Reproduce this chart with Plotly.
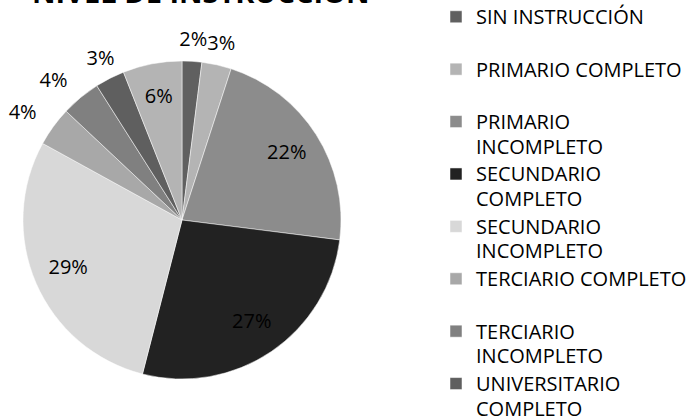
import numpy as np
import plotly.graph_objects as go

categories = ["SIN INSTRUCCIÓN", "PRIMARIO COMPLETO", "PRIMARIO INCOMPLETO",
              "SECUNDARIO COMPLETO", "SECUNDARIO INCOMPLETO", "TERCIARIO COMPLETO",
              "TERCIARIO INCOMPLETO", "UNIVERSITARIO COMPLETO", "UNIVERSITARIO INCOMPLETO"]
legend_lines = [["SIN INSTRUCCIÓN", "\u00a0"], ["PRIMARIO COMPLETO", "\u00a0"],
                ["PRIMARIO", "INCOMPLETO"], ["SECUNDARIO", "COMPLETO"],
                ["SECUNDARIO", "INCOMPLETO"], ["TERCIARIO COMPLETO", "\u00a0"],
                ["TERCIARIO", "INCOMPLETO"], ["UNIVERSITARIO", "COMPLETO"],
                ["UNIVERSITARIO", "INCOMPLETO"]]
percentages = [2, 3, 22, 27, 29, 4, 4, 3, 6]
title_text = "NIVEL DE INSTRUCCIÓN"

colors = ["#606060", "#b4b4b4", "#8c8c8c", "#222222", "#d8d8d8",
          "#a8a8a8", "#808080", "#5f5f5f", "#b4b4b4"]
# where each percentage label sits: inside, outside, outside (text to the left)
label_place = ["out", "out", "in", "in", "in", "out_left", "out_left", "out", "in"]

W, H = 687, 418
cx, cy, r_pie = 182, 220, 159
R_MAX = 1.14                       # radial range (pie edge = 1)
r_px = r_pie * R_MAX
label_radius = {"in": 0.78, "out": 1.13, "out_left": 1.13}
label_anchor = {"in": "middle center", "out": "middle center", "out_left": "middle left"}

vals = np.array(percentages, dtype=float)
total = vals.sum()
widths = vals / total * 360.0
mids = (np.cumsum(vals) - vals / 2) / total * 360.0


def legend_label(lines):
    return "<br>".join('<span style="font-size:20px">%s</span>' % ln for ln in lines)


fig = go.Figure()
for i, cat in enumerate(categories):
    fig.add_trace(go.Barpolar(
        r=[1.0], theta=[mids[i]], width=[widths[i]], base=0,
        name=legend_label(legend_lines[i]),
        marker=dict(color=colors[i], line=dict(color="white", width=0.5)),
        hovertemplate=cat + ": %d%%<extra></extra>" % percentages[i],
    ))

fig.add_trace(go.Scatterpolar(
    r=[label_radius[p] for p in label_place],
    theta=mids,
    mode="text",
    text=["%d%%" % p for p in percentages],
    textposition=[label_anchor[p] for p in label_place],
    textfont=dict(family="Open Sans", size=20, color="black"),
    showlegend=False, hoverinfo="skip", cliponaxis=False,
))

fig.add_annotation(
    text="<b>" + title_text + "</b>",
    x=201 / W, xref="paper", xanchor="center",
    y=1, yref="paper", yanchor="bottom", yshift=-13,
    showarrow=False,
    font=dict(family="Open Sans", size=29, color="black"),
)

fig.update_layout(
    width=W, height=H,
    margin=dict(l=0, r=0, t=0, b=0, autoexpand=False),
    paper_bgcolor="white", plot_bgcolor="white",
    polar=dict(
        domain=dict(x=[(cx - r_px) / W, (cx + r_px) / W],
                    y=[(H - cy - r_px) / H, (H - cy + r_px) / H]),
        bgcolor="rgba(0,0,0,0)",
        radialaxis=dict(range=[0, R_MAX], visible=False, showgrid=False),
        angularaxis=dict(rotation=90, direction="clockwise", visible=False,
                         showgrid=False),
        hole=0,
    ),
    showlegend=True,
    legend=dict(
        x=436 / W, xanchor="left",
        y=1.005, yanchor="top",
        valign="top",
        itemwidth=30,
        maxheight=1000,
        font=dict(family="Open Sans", size=19, color="black"),
        bgcolor="rgba(0,0,0,0)",
        traceorder="normal",
    ),
)

fig.write_html("out.html", config={"displayModeBar": False},
               post_script="document.body.style.margin='0px';")
